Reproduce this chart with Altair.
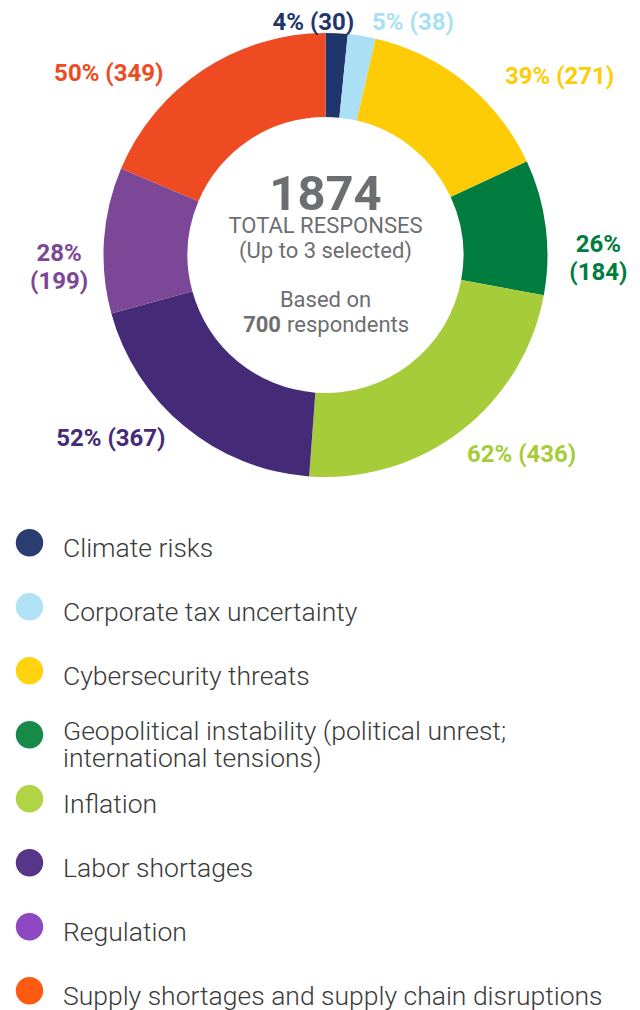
import altair as alt
import pandas as pd

# ---------------- data ----------------
categories = [
    "Climate risks",
    "Corporate tax uncertainty",
    "Cybersecurity threats",
    "Geopolitical instability (political unrest; international tensions)",
    "Inflation",
    "Labor shortages",
    "Regulation",
    "Supply shortages and supply chain disruptions",
]
responses = [30, 38, 271, 184, 436, 367, 199, 349]
respondents = 700
legend_labels = [
    "Climate risks",
    "Corporate tax uncertainty",
    "Cybersecurity threats",
    "Geopolitical instability (political unrest;\ninternational tensions)",
    "Inflation",
    "Labor shortages",
    "Regulation",
    "Supply shortages and supply chain disruptions",
]
center_lines = ["TOTAL RESPONSES", "(Up to 3 selected)", "Based on"]

# ---------------- styles ----------------
pie_colors = ["#1f356b", "#aadff4", "#fecc06", "#007d3e",
              "#a6cd39", "#452a78", "#7c4796", "#ee4b23"]
legend_colors = ["#2b3d70", "#b0e1f5", "#ffd40f", "#178a4a",
                 "#b0d446", "#553688", "#8e48c1", "#ff5a12"]
GRAY = "#6d6e71"
LEGEND_TEXT = "#3a3a3a"
FONT = "Roboto"
two_line = {3, 6}

labels = []
for i, v in enumerate(responses):
    pct = round(v / respondents * 100)
    sep = "\n" if i in two_line else " "
    labels.append(f"{pct}%{sep}({v})")

df = pd.DataFrame({
    "category": categories,
    "value": responses,
    "idx": list(range(len(categories))),
    "label": labels,
    "legend": legend_labels,
})

CX, CY = 317.5, 247
pie_scale = alt.Scale(domain=categories, range=pie_colors)

arc = alt.Chart(df).mark_arc(outerRadius=222, innerRadius=138).encode(
    theta=alt.Theta("value:Q", stack=True),
    order=alt.Order("idx:Q"),
    color=alt.Color("category:N", scale=pie_scale, legend=None),
    x=alt.value(CX),
    y=alt.value(CY),
)

# label placement: (radius, align, dx, dy) per slice, angle comes from the stack
layout = [
    (234.5, "right", 17, 2),
    (236, "left", 8, 1),
    (229, "left", 35, 0),
    (275, "center", 0, 24),
    (231.5, "left", 0, 17),
    (239, "right", -8, 0),
    (267, "center", 0, 17),
    (230, "right", -35, 11),
]

label_layers = []
for i, (r, a, dx, dy) in enumerate(layout):
    label_layers.append(
        alt.Chart(df).mark_text(
            radius=r, align=a, baseline="middle", dx=dx, dy=dy,
            font=FONT, fontWeight="bold", fontSize=24,
            lineBreak="\n", lineHeight=28,
        ).encode(
            theta=alt.Theta("value:Q", stack=True),
            order=alt.Order("idx:Q"),
            color=alt.Color("category:N", scale=pie_scale, legend=None),
            x=alt.value(CX),
            y=alt.value(CY),
            text=alt.condition(alt.datum.idx == i, "label:N", alt.value("")),
        )
    )

total_text = alt.Chart(df).transform_aggregate(total="sum(value)").mark_text(
    font=FONT, fontWeight="bold", fontSize=49, color=GRAY,
    align="center", baseline="alphabetic",
).encode(x=alt.value(CX), y=alt.value(202), text="total:Q")

center_layers = []
for s, yy in zip(center_lines, [225, 250, 299]):
    center_layers.append(
        alt.Chart(pd.DataFrame({"t": [s]})).mark_text(
            font=FONT, fontSize=22, color=GRAY, align="center", baseline="alphabetic",
        ).encode(x=alt.value(CX), y=alt.value(yy), text="t:N")
    )

resp_num = alt.Chart(pd.DataFrame({"n": [respondents]})).mark_text(
    font=FONT, fontWeight="bold", fontSize=22, color=GRAY, align="right", baseline="alphabetic",
).encode(x=alt.value(273), y=alt.value(324), text="n:Q")
resp_word = alt.Chart(pd.DataFrame({"t": ["respondents"]})).mark_text(
    font=FONT, fontSize=22, color=GRAY, align="left", baseline="alphabetic",
).encode(x=alt.value(279), y=alt.value(324), text="t:N")

leg_y = alt.Y("category:N", sort=categories, axis=None,
              scale=alt.Scale(type="point", range=[534.7, 982.7], padding=0))

leg_dots = alt.Chart(df).mark_circle(size=755, opacity=1).encode(
    x=alt.value(21.5),
    y=leg_y,
    color=alt.Color("category:N", scale=alt.Scale(domain=categories, range=legend_colors), legend=None),
)
leg_text_single = alt.Chart(df).transform_filter(alt.datum.idx != 3).mark_text(
    align="left", baseline="middle", font=FONT, fontWeight=300, fontSize=26.5,
    color=LEGEND_TEXT, dy=6,
).encode(x=alt.value(55), y=leg_y, text="legend:N")
leg_text_multi = alt.Chart(df).transform_filter(alt.datum.idx == 3).mark_text(
    align="left", baseline="middle", font=FONT, fontWeight=300, fontSize=26.5,
    color=LEGEND_TEXT, lineBreak="\n", lineHeight=27, dy=-3,
).encode(x=alt.value(55), y=leg_y, text="legend:N")

chart = alt.layer(
    arc, *label_layers, total_text, *center_layers, resp_num, resp_word,
    leg_dots, leg_text_single, leg_text_multi,
).resolve_scale(color="independent").properties(
    width=624, height=1002, padding=0,
    autosize=alt.AutoSizeParams(type="none"),
    background="white",
).configure_view(stroke=None)

chart.save("out.html", embed_options={"renderer": "svg", "actions": False})
